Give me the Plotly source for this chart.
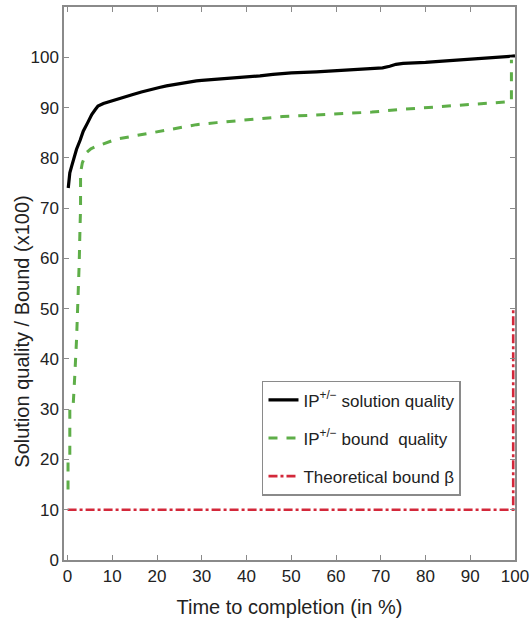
import plotly.graph_objects as go

# IP+/- solution quality over time (percent of completion)
sol_time = [0.15, 0.5, 0.9, 1.5, 2.0, 2.8, 3.5, 4.5, 5.4, 6.2, 6.8, 8.0, 9.0, 10.9,
            12.5, 14.6, 16.5, 18.4, 20.5, 22.1, 25.8, 28.8, 30.0, 33.0, 36.0, 40.0,
            43.0, 45.9, 50.0, 55.6, 60.0, 65.0, 70.4, 72.0, 73.4, 75.0, 77.9, 80.0,
            84.6, 88.0, 92.0, 96.0, 99.1, 100.0]
sol_quality = [74.0, 77.0, 78.3, 80.2, 81.7, 83.5, 85.3, 87.0, 88.6, 89.6, 90.3, 90.8,
               91.1, 91.6, 92.1, 92.6, 93.1, 93.6, 94.0, 94.3, 94.9, 95.3, 95.4, 95.6,
               95.8, 96.0, 96.3, 96.6, 96.9, 97.1, 97.3, 97.6, 97.9, 98.2, 98.6, 98.8,
               98.9, 99.0, 99.3, 99.5, 99.7, 99.9, 100.2, 100.3]

# IP+/- bound quality over time
bound_time = [0.1, 0.1, 0.5, 0.5, 1.25, 1.3, 1.6, 2.0, 2.4, 2.6, 2.75, 2.9, 2.9, 3.3,
              4.2, 5.2, 6.5, 8.5, 10.9, 14.6, 20.6, 28.8, 33.3, 40.0, 48.1, 55.0,
              63.0, 68.0, 74.2, 80.0, 85.3, 90.0, 95.0, 98.0, 99.2, 99.2]
bound_quality = [14.0, 20.1, 20.3, 30.5, 30.8, 32.0, 36.5, 43.8, 52.4, 59.1, 65.0, 70.0,
                 77.0, 79.0, 81.0, 81.8, 82.3, 83.0, 83.7, 84.3, 85.3, 86.6, 87.0, 87.5,
                 88.2, 88.5, 88.8, 89.1, 89.6, 90.0, 90.3, 90.6, 90.9, 91.1, 91.2, 99.5]

# Theoretical bound beta
beta_time = [0.0, 99.6, 99.6]
beta_value = [10.0, 10.0, 50.0]

y_ticks = [0, 10, 20, 30, 40, 50, 60, 70, 80, 90, 100]
x_ticks = [0, 10, 20, 30, 40, 50, 60, 70, 80, 90, 100]

font_family = "Liberation Sans, Arial, sans-serif"
text_color = "#222"
axis_color = "#8a8a8a"

fig = go.Figure()
fig.add_trace(go.Scatter(
    x=sol_time, y=sol_quality, mode="lines", legendgroup="a",
    name="IP<sup>+/\u2212</sup> solution quality",
    line=dict(color="black", width=3.2)))
fig.add_trace(go.Scatter(
    x=bound_time, y=bound_quality, mode="lines", legendgroup="b",
    name="IP<sup>+/\u2212</sup> bound  quality",
    line=dict(color="#5eae48", width=3, dash="dash")))
fig.add_trace(go.Scatter(
    x=beta_time, y=beta_value, mode="lines", legendgroup="c",
    name="Theoretical bound \u03b2",
    line=dict(color="#d3283a", width=2.6, dash="dashdot")))

axis_common = dict(
    showline=True, linecolor=axis_color, linewidth=1.5, mirror="ticks",
    ticks="inside", ticklen=5, tickcolor=axis_color, tickwidth=1.2,
    showgrid=False, zeroline=False, automargin=False,
    tickfont=dict(family=font_family, size=17, color=text_color),
)

fig.update_layout(
    width=531, height=619,
    margin=dict(l=64, r=16, t=7, b=59),
    paper_bgcolor="white", plot_bgcolor="white",
    xaxis=dict(range=[-0.8, 100], tickvals=x_ticks, ticktext=[str(v) for v in x_ticks],
               title=dict(text="Time to completion (in %)",
                          font=dict(family=font_family, size=20, color=text_color)),
               **axis_common),
    yaxis=dict(range=[0, 110], tickvals=y_ticks, ticktext=[str(v) for v in y_ticks],
               **axis_common),
    legend=dict(x=0.439, y=0.324, xanchor="left", yanchor="top",
                bgcolor="white", bordercolor=axis_color, borderwidth=1.5,
                font=dict(family=font_family, size=17, color=text_color),
                tracegroupgap=13),
    showlegend=True,
    annotations=[dict(
        text="Solution quality / Bound (x100)", textangle=-90,
        xref="paper", yref="paper", x=-0.092, y=0.412,
        xanchor="center", yanchor="middle", showarrow=False,
        font=dict(family=font_family, size=20, color=text_color))],
)

fig.write_html("out.html")
